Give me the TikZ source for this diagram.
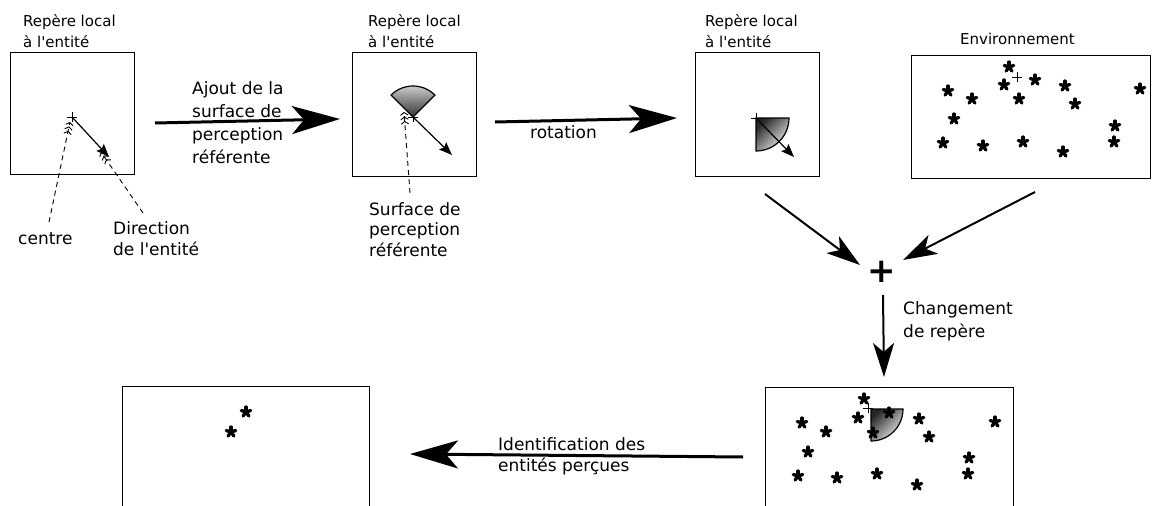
\documentclass[tikz,border=0pt]{standalone}
\usepackage{fontspec}
\setmainfont{DejaVu Sans}
\usetikzlibrary{arrows.meta}
\newcommand\ftitle{\fontsize{15pt}{21pt}\selectfont}
\newcommand\flab{\fontsize{17pt}{20.5pt}\selectfont}
\newcommand\flabw{\fontsize{17pt}{23pt}\selectfont}
\newcommand\ap{\textquotesingle}
\tikzset{
  box/.style={draw, line width=1.3pt, minimum width=#1, inner sep=0pt, anchor=north west},
  titl/.style={font=\ftitle, align=left, inner sep=0pt, anchor=base west},
  lab/.style={font=\flab, align=left, inner sep=0pt, anchor=base west},
  labw/.style={font=\flabw, align=left, inner sep=0pt, anchor=base west},
  bigarr/.style={line width=3pt, -{Stealth[length=48pt,width=28pt,inset=12pt]}},
  midarr/.style={line width=2pt, -{Stealth[length=34pt,width=21pt,inset=9pt]}},
  smallarr/.style={line width=1.2pt, -{Stealth[length=13pt,width=10pt,inset=2pt]}},
  leader/.style={line width=0.9pt, dash pattern=on 5pt off 4pt,
    -{Straight Barb[length=2.6pt,width=7.5pt,sep=0.9pt]Straight Barb[length=2.6pt,width=7.5pt,sep=0.9pt]Straight Barb[length=2.6pt,width=7.5pt]}},
  astr/.pic={\foreach \a in {90,162,234,306,18} \draw[line width=3.3pt, line cap=round] (0,0) -- (\a:5);},
  crs/.pic={\draw[line width=0.8pt] (-5,0) -- (5,0) (0,-5) -- (0,5);},
}
\begin{document}
\begin{tikzpicture}[x=1pt,y=1pt]
\useasboundingbox (0,0) rectangle (1152,-506);
\clip (0,0) rectangle (1152,-506);

% ---- box 1
\node[box=124pt, minimum height=122pt] (b1) at (10,-52) {};
\node[titl] (t1) at (23,-47) {Repère local\\à l\ap entité};
\pic at (72,-117) {crs};
\coordinate (c1) at (72,-117);
\coordinate (d1) at (109,-157);
\draw[smallarr] (c1) -- (d1);
\node[lab] (lcentre) at (18,-244) {centre};
\node[lab] (ldir) at (113,-255) {Direction\\de l\ap entité};
\coordinate (lc0) at (49,-222); \coordinate (lc1) at (70,-122);
\coordinate (ld0) at (143,-213); \coordinate (ld1) at (101,-152);
\draw[leader] (lc0) -- (lc1);
\draw[leader] (ld0) -- (ld1);

% ---- arrow 1
\coordinate (a1s) at (155,-123); \coordinate (a1e) at (340,-119);
\draw[bigarr] (a1s) -- (a1e);
\node[labw] (lajout) at (192,-163) {Ajout de la\\surface de\\perception\\référente};

% ---- box 2
\node[box=124pt, minimum height=124pt] (b2) at (352,-52) {};
\node[titl] (t2) at (368,-47) {Repère local\\à l\ap entité};
\pic at (413,-117) {crs};
\shadedraw[top color=black!15, bottom color=black!80, line width=1.2pt]
  (413,-117) -- ++(45:31) arc[start angle=45, end angle=135, radius=31] -- cycle;
\coordinate (c2) at (413,-117);
\coordinate (d2) at (452,-155);
\draw[smallarr] (c2) -- (d2);
\coordinate (ls0) at (410,-193); \coordinate (ls1) at (404,-112);
\draw[leader] (ls0) -- (ls1);
\node[lab] (lsurf) at (369,-256) {Surface de\\perception\\référente};

% ---- arrow 2
\coordinate (a2s) at (495,-122); \coordinate (a2e) at (677,-118);
\draw[bigarr] (a2s) -- (a2e);
\node[lab] (lrot) at (530,-138) {rotation};

% ---- box 3
\node[box=124pt, minimum height=124pt] (b3) at (695,-52) {};
\node[titl] (t3) at (705,-47) {Repère local\\à l\ap entité};
\shadedraw[top color=black!85, bottom color=black!5, shading angle=45, line width=1.2pt]
  (756,-118) -- ++(0:33) arc[start angle=0, end angle=-90, radius=33] -- cycle;
\pic at (756,-118) {crs};
\coordinate (c3) at (756,-118);
\coordinate (d3) at (794,-157);
\draw[smallarr] (c3) -- (d3);

% ---- environment
\node[box=239pt, minimum height=123pt] (env) at (911,-54.5) {};
\node[titl] (tenv) at (960,-44) {Environnement};
\pic at (1017,-77) {crs};
\foreach \p in {(1009,-67),(1004,-85),(1035,-80),(1019,-99),(948,-91),(972,-99),
  (1065,-86),(1075,-104),(1140,-89),(954,-119),(943,-143),(983,-146),(1023,-142),
  (1063,-152),(1115,-126),(1114,-142)} \pic at \p {astr};

% ---- plus and arrows
\node[font=\fontsize{34pt}{34pt}\selectfont\bfseries, inner sep=0pt] (plus) at (882,-272) {+};
\coordinate (p3s) at (765,-194); \coordinate (p3e) at (860,-265);
\coordinate (pes) at (1035,-192); \coordinate (pee) at (903,-260);
\draw[midarr] (p3s) -- (p3e);
\draw[midarr] (pes) -- (pee);
\coordinate (pds) at (883,-295); \coordinate (pde) at (884,-377);
\draw[midarr] (pds) -- (pde);
\node[labw] (lchg) at (903,-337) {Changement\\de repère};

% ---- box 4
\node[box=248pt, minimum height=160pt] (b4) at (765,-387) {};
\shadedraw[top color=black!85, bottom color=black!5, shading angle=45, line width=1.2pt]
  (871,-409) -- ++(0:32) arc[start angle=0, end angle=-90, radius=32] -- cycle;
\pic at (868,-408) {crs};
\foreach \p in {(864,-399),(858,-418),(889,-413),(802,-423),(826,-432),(919,-419),
  (929,-437),(995,-422),(808,-452),(798,-476),(837,-478),(877,-474),(917,-485),
  (969,-458),(968,-474),(873,-433)} \pic at \p {astr};

% ---- arrow identification
\coordinate (ids) at (743,-457); \coordinate (ide) at (410,-454);
\draw[bigarr] (ids) -- (ide);
\node[lab] (lid) at (498,-471) {Identification des\\entités perçues};

% ---- box 5
\node[box=247pt, minimum height=160pt] (b5) at (122,-386) {};
\pic at (246,-412) {astr};
\pic at (231,-432) {astr};
\end{tikzpicture}
\end{document}
